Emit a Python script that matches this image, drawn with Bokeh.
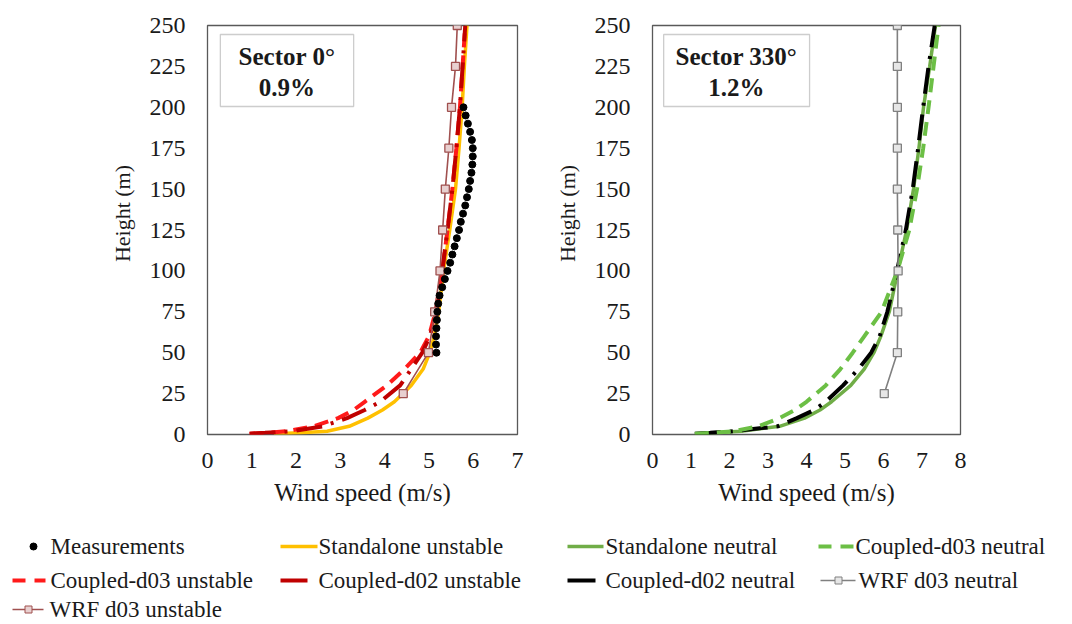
from bokeh.plotting import figure
from bokeh.layouts import row, column
from bokeh.models import Range1d, SingleIntervalTicker, BoxAnnotation, Label
from bokeh.embed import file_html
from bokeh.resources import INLINE
from bokeh.core.properties import value

FONT = "Liberation Serif"

# ---------------- data ----------------
# Sector 0 deg (left panel)
meas_h = [50, 55, 60, 65, 70, 75, 80, 85, 90, 95, 100, 105, 110, 115, 120, 125, 130,
          135, 140, 145, 150, 155, 160, 165, 170, 175, 180, 185, 190, 195, 200]
meas_u = [5.17, 5.16, 5.16, 5.17, 5.18, 5.19, 5.21, 5.24, 5.30, 5.36, 5.42, 5.48, 5.53,
          5.58, 5.63, 5.68, 5.72, 5.77, 5.82, 5.86, 5.90, 5.93, 5.96, 5.98, 5.99, 5.99,
          5.97, 5.93, 5.88, 5.83, 5.78]

prof_h = [0.5, 1, 2, 5, 10, 15, 20, 30, 40, 50, 60, 75, 100, 125, 150, 175, 200, 225, 250]
sa_unstable = [1.5, 2.1, 2.7, 3.2, 3.62, 3.95, 4.22, 4.6, 4.87, 5.02, 5.12, 5.22, 5.33,
               5.47, 5.6, 5.68, 5.75, 5.8, 5.86]
c03_unstable = [0.95, 1.3, 1.8, 2.4, 2.95, 3.3, 3.55, 4.05, 4.45, 4.8, 5.0, 5.15, 5.3,
                5.42, 5.53, 5.62, 5.7, 5.76, 5.82]
c02_unstable = [0.95, 1.3, 1.9, 2.6, 3.15, 3.55, 3.9, 4.35, 4.6, 4.85, 5.02, 5.17, 5.3,
                5.42, 5.53, 5.62, 5.7, 5.76, 5.82]

wrf_h = [25, 50, 75, 100, 125, 150, 175, 200, 225, 250]
wrf_unstable = [4.42, 4.99, 5.13, 5.25, 5.31, 5.37, 5.45, 5.51, 5.6, 5.64]

# Sector 330 deg (right panel)
sa_neutral = [1.1, 1.6, 2.3, 3.3, 3.95, 4.35, 4.65, 5.15, 5.5, 5.75, 5.93, 6.15, 6.37,
              6.6, 6.78, 6.92, 7.04, 7.2, 7.35]
c03_neutral = [1.1, 1.5, 2.1, 2.75, 3.3, 3.7, 4.0, 4.5, 4.88, 5.2, 5.5, 5.95, 6.36,
               6.67, 6.87, 7.03, 7.17, 7.3, 7.43]
c02_neutral = [1.1, 1.5, 2.1, 3.25, 3.75, 4.2, 4.5, 4.95, 5.35, 5.68, 5.9, 6.1, 6.35,
               6.58, 6.76, 6.9, 7.03, 7.17, 7.33]
wrf_neutral = [6.02, 6.36, 6.37, 6.38, 6.37, 6.36, 6.36, 6.36, 6.36, 6.36]

x_tick_step = 1
y_tick_step = 25

# ---------------- styles ----------------
C_SA_UN = "#FFC000"
C_C03_UN = "#FF1A1A"
C_C02_UN = "#C00000"
C_WRF_UN = "#A0504F"
C_SA_NE = "#70AD47"
C_C03_NE = "#6CBF45"
C_C02_NE = "#000000"
C_WRF_NE = "#808080"
DASH = "14 8"
DASHDOT = "26 9 3 9"
NB = "\u00a0"


def make_fig(xmax, left, right):
    p = figure(width=536, height=520, x_range=Range1d(0, xmax), y_range=Range1d(0, 250),
               output_backend="svg", toolbar_location=None,
               min_border_left=left, min_border_right=right,
               min_border_top=25, min_border_bottom=86)
    p.xgrid.visible = False
    p.ygrid.visible = False
    p.outline_line_color = "#595959"
    p.outline_line_width = 1.3
    p.background_fill_color = "white"
    p.border_fill_color = "white"
    for ax in (p.xaxis[0], p.yaxis[0]):
        ax.axis_line_color = None
        ax.major_tick_line_color = None
        ax.minor_tick_line_color = None
        ax.major_tick_out = 0
        ax.major_tick_in = 0
        ax.minor_tick_out = 0
        ax.minor_tick_in = 0
        ax.major_label_text_font = FONT
        ax.major_label_text_font_size = "24px"
        ax.major_label_text_color = "#1a1a1a"
        ax.axis_label_text_font = FONT
        ax.axis_label_text_font_style = "normal"
        ax.axis_label_text_color = "#1a1a1a"
    p.xaxis.ticker = SingleIntervalTicker(interval=x_tick_step)
    p.yaxis.ticker = SingleIntervalTicker(interval=y_tick_step)
    p.xaxis.axis_label = "Wind speed (m/s)"
    p.yaxis.axis_label = NB * 6 + "Height (m)"
    p.xaxis.axis_label_text_font_size = "25px"
    p.yaxis.axis_label_text_font_size = "22px"
    p.xaxis.major_label_standoff = 18
    p.yaxis.major_label_standoff = 22
    p.xaxis.axis_label_standoff = 8
    p.yaxis.axis_label_standoff = 12
    return p


def add_box(p, left, right, lines, xc):
    p.add_layout(BoxAnnotation(left=left, right=right, bottom=200.5, top=244.5,
                               fill_color="white", fill_alpha=1.0,
                               line_color="#595959", line_width=1.3))
    for txt, yy in zip(lines, (231, 212.4)):
        p.add_layout(Label(x=xc, y=yy, text=txt, text_font=FONT, text_font_style="bold",
                           text_font_size="25px", text_align="center",
                           text_baseline="middle", text_color="#1a1a1a"))


# left panel
p1 = make_fig(7, 207, 19)
p1.line(sa_unstable, prof_h, line_color=C_SA_UN, line_width=3.5)
p1.line(c03_unstable, prof_h, line_color=C_C03_UN, line_width=4, line_dash=DASH)
p1.line(c02_unstable, prof_h, line_color=C_C02_UN, line_width=4, line_dash=DASHDOT)
p1.line(wrf_unstable, wrf_h, line_color=C_WRF_UN, line_width=1.6)
p1.scatter(wrf_unstable, wrf_h, marker="square", size=8, line_color=C_WRF_UN,
           fill_color="#e8d0d0", line_width=1.3)
p1.scatter(meas_u, meas_h, marker="circle", size=7, color="black")
add_box(p1, 0.29, 3.3, ["Sector 0°", "0.9%"], 1.795)

# right panel
p2 = make_fig(8, 116, 112)
p2.line(sa_neutral, prof_h, line_color=C_SA_NE, line_width=3.5)
p2.line(c02_neutral, prof_h, line_color=C_C02_NE, line_width=4, line_dash=DASHDOT)
p2.line(c03_neutral, prof_h, line_color=C_C03_NE, line_width=4, line_dash=DASH)
p2.line(wrf_neutral, wrf_h, line_color=C_WRF_NE, line_width=1.6)
p2.scatter(wrf_neutral, wrf_h, marker="square", size=8, line_color=C_WRF_NE,
           fill_color="#e6e6e6", line_width=1.3)
add_box(p2, 0.29, 4.08, ["Sector 330°", "1.2%"], 2.18)

# legend panel (layout positions in pixels)
lg = figure(width=1072, height=104, x_range=Range1d(0, 1072), y_range=Range1d(104, 0),
            output_backend="svg", toolbar_location=None, min_border=0)
lg.axis.visible = False
lg.grid.visible = False
lg.outline_line_color = None

labels = ["Measurements", "Standalone unstable", "Standalone neutral", "Coupled-d03 neutral",
          "Coupled-d03 unstable", "Coupled-d02 unstable", "Coupled-d02 neutral",
          "WRF d03 neutral", "WRF d03 unstable"]
lab_x = [50, 318, 605, 855, 50, 318, 605, 858, 49]
lab_y = [26, 26, 26, 26, 60, 60, 60, 60, 89]
lg.text(lab_x, lab_y, text=labels, text_font=value(FONT), text_font_size="23px",
        text_baseline="middle", text_align="left", text_color="#1a1a1a")

lg.scatter([33], [26], marker="circle", size=7, color="black")
lg.line([280, 317], [26, 26], line_color=C_SA_UN, line_width=3.5)
lg.line([567, 603], [26, 26], line_color=C_SA_NE, line_width=3.5)
lg.line([818, 853], [26, 26], line_color=C_C03_NE, line_width=4, line_dash="13 9")
lg.line([12, 45], [60, 60], line_color=C_C03_UN, line_width=4, line_dash="13 9")
lg.line([280, 307], [60, 60], line_color=C_C02_UN, line_width=4)
lg.line([567, 595], [60, 60], line_color=C_C02_NE, line_width=4)
lg.line([820, 855], [60, 60], line_color=C_WRF_NE, line_width=1.5)
lg.scatter([838], [60], marker="square", size=7, line_color=C_WRF_NE, fill_color="#e6e6e6")
lg.line([12, 43], [89, 89], line_color=C_WRF_UN, line_width=1.5)
lg.scatter([28], [89], marker="square", size=7, line_color=C_WRF_UN, fill_color="#e8d0d0")

layout = column(row(p1, p2), lg)
open("out.html", "w").write(file_html(layout, INLINE))
